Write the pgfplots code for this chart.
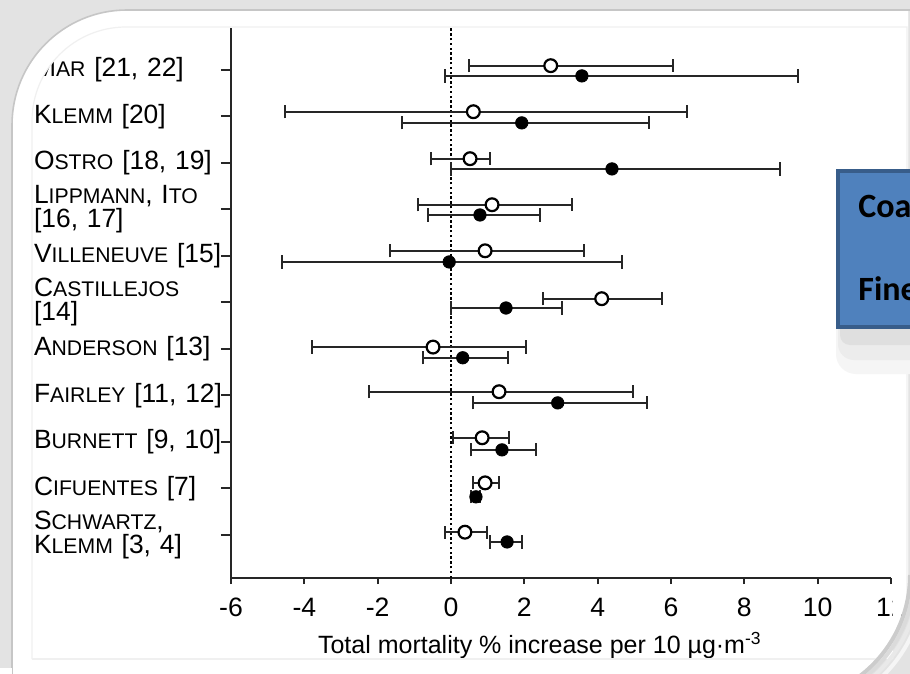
\documentclass[border=0pt]{standalone}
\usepackage{fontspec}
\setmainfont{Liberation Sans}
\newfontfamily\carlito{Carlito}
\usepackage{pgfplots}
\usepackage{pgfplotstable}
\pgfplotsset{compat=1.18}
\definecolor{boxfill}{RGB}{79,129,189}
\definecolor{boxline}{RGB}{56,93,138}
\newcommand\smc[1]{{\fontsize{10.6}{12}\selectfont #1}}

% coarse particles (open circles): y position, estimate, lower, upper
\pgfplotstableread{
y     x      lo     hi
11.09  2.72   0.49   6.05
10.10  0.61  -4.52   6.43
9.09   0.52  -0.54   1.05
8.10   1.12  -0.90   3.30
7.11   0.93  -1.66   3.62
6.08   4.11   2.50   5.76
5.04  -0.49  -3.79   2.04
4.08   1.31  -2.23   4.96
3.09   0.85   0.06   1.58
2.12   0.93   0.60   1.31
1.06   0.38  -0.16   0.98
}\coarse

% fine particles (filled circles)
\pgfplotstableread{
y     x      lo     hi
10.87  3.57  -0.16   9.46
9.86   1.93  -1.33   5.39
8.87   4.39   0.00   8.96
7.88   0.79  -0.63   2.43
6.87  -0.05  -4.60   4.66
5.88   1.50   0.00   3.02
4.81   0.32  -0.77   1.56
3.84   2.91   0.59   5.34
2.83   1.39   0.54   2.32
1.82   0.68   0.55   0.80
0.85   1.53   1.06   1.93
}\fine

\begin{document}
\begin{tikzpicture}[x=0.5pt,y=-0.5pt]
\useasboundingbox (0,0) rectangle (910,674);

% slide background and frame
\fill[gray!22] (0,0) rectangle (910,674);
\fill[white] (12,700) -- (12,125) arc[start angle=180,end angle=270,radius=115]
  -- (908,10) -- (908,575) arc[start angle=0,end angle=90,radius=125] -- cycle;

\begin{axis}[
    at={(115.5pt,-289pt)}, anchor=south west,
    scale only axis, width=330pt, height=275pt,
    xmin=-6, xmax=12, ymin=0.075, ymax=11.9,
    axis lines*=left,
    axis line style={line width=1.2pt, black!85},
    tick align=outside,
    tick style={line width=1pt, black!85},
    xtick={-6,-4,-2,0,2,4,6,8,10,12},
    xticklabels={-6,-4,-2,0,2,4,6,8,10,12},
    xtick style={/pgfplots/major tick length=3pt},
    ytick style={/pgfplots/major tick length=5pt},
    ytick={1,...,11},
    yticklabels={
        {S\smc{CHWARTZ},\\K\smc{LEMM} [3, 4]},
        {C\smc{IFUENTES} [7]},
        {B\smc{URNETT} [9, 10]},
        {F\smc{AIRLEY} [11, 12]},
        {A\smc{NDERSON} [13]},
        {C\smc{ASTILLEJOS}\\{}[14]},
        {V\smc{ILLENEUVE} [15]},
        {L\smc{IPPMANN}, I\smc{TO}\\{}[16, 17]},
        {O\smc{STRO} [18, 19]},
        {K\smc{LEMM} [20]},
        {M\smc{AR} [21, 22]},
    },
    xticklabel style={font=\fontsize{13.3}{15}\selectfont, inner sep=0pt, yshift=-5.5pt},
    yticklabel style={font=\fontsize{13.2}{12}\selectfont, text width=94pt, align=left, inner sep=0pt},
    xlabel={Total mortality \% increase per 10 µg·m\textsuperscript{-3}},
    xlabel style={at={(axis description cs:0.468,0)}, anchor=north, inner sep=0pt,
        yshift=-27pt, font=\fontsize{12.5}{14}\selectfont},
    clip=false,
]
\draw[black, line width=0.9pt, dash pattern=on 1.2pt off 1.2pt]
    (axis cs:0,0.075) -- (axis cs:0,11.9);

\addplot[only marks, mark=*, mark size=3.1pt, black,
    error bars/.cd, x dir=both, x explicit,
    error bar style={line width=1pt, black!85},
    error mark options={rotate=90, mark size=3.3pt, line width=1pt, black!85}]
    table[x=x, y=y, x error plus expr=\thisrow{hi}-\thisrow{x},
          x error minus expr=\thisrow{x}-\thisrow{lo}] {\fine};

\addplot[only marks, mark=*, mark size=3.2pt, mark options={fill=white, draw=black, line width=1.1pt},
    error bars/.cd, x dir=both, x explicit,
    error bar style={line width=1pt, black!85},
    error mark options={rotate=90, mark size=3.3pt, line width=1pt, black!85}]
    table[x=x, y=y, x error plus expr=\thisrow{hi}-\thisrow{x},
          x error minus expr=\thisrow{x}-\thisrow{lo}] {\coarse};
\end{axis}

% inner white band of the frame (covers the picture edges)
\fill[white, even odd rule]
  (12,700) -- (12,125) arc[start angle=180,end angle=270,radius=115]
  -- (908,10) -- (908,575) arc[start angle=0,end angle=90,radius=125] -- cycle
  (32,659) -- (32,121) arc[start angle=180,end angle=270,radius=94]
  -- (893,27) -- (893,659) -- cycle;
\draw[gray!12, line width=0.6pt] (32,659) -- (32,121)
  arc[start angle=180,end angle=270,radius=94] -- (907,27) -- (907,600);
\draw[gray!12, line width=0.6pt] (32,659) -- (880,659);

% frame shadows
\draw[gray!45, line width=0.8pt] (12,700) -- (12,125)
  arc[start angle=180,end angle=270,radius=115] -- (910,10);
\fill[white] (0,668) rectangle (12,674);
\foreach \r/\c in {127/40, 131/28, 136/17, 142/8} {
  \draw[gray!\c, line width=2pt] (783+\r,575) arc[start angle=0,end angle=90,radius=\r];
}

% legend box (cut off at the right, as in the slide)
\fill[gray!8, rounded corners=10pt] (836,300) rectangle (930,374);
\fill[gray!15, rounded corners=8pt] (838,300) rectangle (930,360);
\fill[gray!25, rounded corners=5pt] (840,300) rectangle (930,345);
\draw[boxline, line width=2pt, fill=boxfill] (838,171) rectangle (940,327);
\node[anchor=base west, inner sep=0pt, font=\carlito\bfseries\fontsize{17}{19}\selectfont]
  at (858,217) {Coarse};
\node[anchor=base west, inner sep=0pt, font=\carlito\bfseries\fontsize{17}{19}\selectfont]
  at (858,300) {Fine};
\end{tikzpicture}
\end{document}
